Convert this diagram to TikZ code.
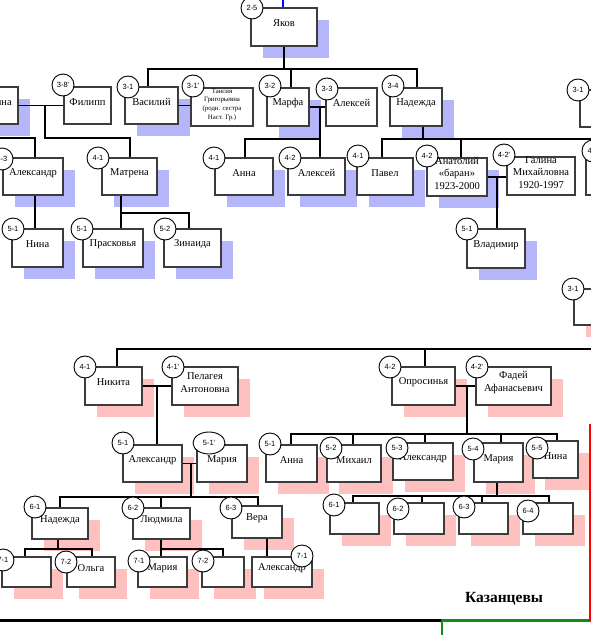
\documentclass[tikz,border=0pt]{standalone}
\usepackage{fontspec}
\setmainfont{Liberation Serif}
\newfontfamily\labfont{Liberation Sans}
\usetikzlibrary{calc,fit,shapes.geometric}
\pgfdeclarelayer{bg}\pgfdeclarelayer{lines}\pgfdeclarelayer{fg}
\pgfsetlayers{bg,lines,main,fg}
\definecolor{shb}{RGB}{181,181,250}
\definecolor{shp}{RGB}{255,192,192}
\definecolor{bord}{RGB}{60,60,60}
\definecolor{grn}{RGB}{20,140,20}
\tikzset{
 pbox/.style={draw=bord, line width=1.2pt, fill=white, inner sep=0pt, align=center, font=\fontsize{10.5}{12.5}\selectfont},
 lab/.style={circle, draw=black, line width=0.9pt, fill=white, minimum size=22pt, inner sep=0pt, font=\labfont\fontsize{7.5}{8}\selectfont},
 con/.style={line width=1.6pt, black},
 ntansiya/.style={font=\fontsize{6.8}{8.8}\selectfont},
}
\newcommand\pers[8]{%
 \begin{pgfonlayer}{bg}\path[fill=#7] ($(#2)+(12,12)$) rectangle ($(#3)+(12,12)$);\end{pgfonlayer}
 \node[pbox, fit={(#2) (#3)}, n#1/.try] (#1) {#4};
 \ifx&#5&\else\begin{pgfonlayer}{fg}\node[lab,#8] (l#1) at (#6) {#5};\end{pgfonlayer}\fi
}
\begin{document}
\begin{tikzpicture}[x=1pt,y=-1pt]
\useasboundingbox (0,0) rectangle (591,635);
% ---------- upper family (blue) ----------
\pers{yakov}{251,8}{317,46}{Яков}{2-5}{252,8}{shb}{}
\pers{leftna}{-18,87}{18,124}{Анна}{}{0,0}{shb}{}
\pers{filipp}{64,87}{111,124}{Филипп}{3-8'}{63,85}{none}{}
\pers{vasiliy}{125,87}{178,124}{Василий}{3-1}{128,87}{shb}{}
\pers{tansiya}{191,88}{253,126}{Тансия\\Григорьевна\\(родн. сестра\\Наст. Гр.)}{3-1'}{193,86}{none}{}
\pers{marfa}{267,88}{309,126}{Марфа}{3-2}{270,86}{shb}{}
\pers{aleksey3}{326,88}{377,126}{Алексей}{3-3}{327,89}{none}{}
\pers{nadezhda3}{390,88}{442,126}{Надежда}{3-4}{393,86}{shb}{}
\pers{right31}{580,90}{640,127}{}{3-1}{578,90}{shb}{}
\pers{aleks4}{3,158}{63,195}{Александр}{4-3}{2,159}{shb}{}
\pers{matrena}{102,158}{157,195}{Матрена}{4-1}{98,158}{shb}{}
\pers{anna4}{215,158}{273,195}{Анна}{4-1}{214,158}{shb}{}
\pers{aleksey4}{288,158}{345,195}{Алексей}{4-2}{290,158}{shb}{}
\pers{pavel}{357,158}{413,195}{Павел}{4-1}{358,156}{shb}{}
\pers{anatoliy}{427,158}{487,196}{Анатолий\\«баран»\\1923-2000}{4-2}{427,156}{shb}{}
\pers{galina}{507,157}{575,195}{Галина\\Михайловна\\1920-1997}{4-2'}{504,155}{none}{}
\pers{right43}{586,157}{640,195}{}{4-3}{593,151}{shb}{}
\pers{nina}{12,229}{63,267}{Нина}{5-1}{13,229}{shb}{}
\pers{praskovya}{83,229}{143,267}{Прасковья}{5-1}{82,229}{shb}{}
\pers{zinaida}{164,229}{221,267}{Зинаида}{5-2}{165,229}{shb}{}
\pers{vladimir}{467,229}{525,268}{Владимир}{5-1}{467,229}{shb}{}
\pers{right31b}{574,289}{640,325}{}{3-1}{573,289}{shp}{}
% ---------- lower family (pink) ----------
\pers{nikita}{85,367}{142,405}{Никита}{4-1}{85,367}{shp}{}
\pers{pelageya}{172,367}{238,405}{Пелагея\\Антоновна}{4-1'}{173,367}{shp}{}
\pers{opros}{392,367}{455,405}{Опросинья}{4-2}{390,367}{shp}{}
\pers{fadey}{476,367}{551,405}{Фадей\\Афанасьевич}{4-2'}{477,367}{shp}{}
\pers{aleks5}{123,445}{182,482}{Александр}{5-1}{123,443}{shp}{}
\pers{mariya5}{197,445}{247,482}{Мария}{5-1'}{209,443}{shp}{ellipse, minimum width=32pt, minimum height=22pt}
\pers{anna5}{266,445}{317,482}{Анна}{5-1}{270,444}{shp}{}
\pers{mikhail}{327,445}{381,482}{Михаил}{5-2}{331,448}{shp}{}
\pers{aleks53}{393,443}{453,480}{Александр}{5-3}{397,448}{shp}{}
\pers{mariya54}{474,443}{523,482}{Мария}{5-4}{473,449}{shp}{}
\pers{nina55}{533,441}{578,478}{Нина}{5-5}{537,448}{shp}{}
\pers{nadezhda6}{32,508}{88,539}{Надежда}{6-1}{35,507}{shp}{}
\pers{lyud}{133,508}{190,539}{Людмила}{6-2}{133,508}{shp}{}
\pers{vera}{232,506}{282,538}{Вера}{6-3}{231,508}{shp}{}
\pers{cA}{330,503}{379,534}{}{6-1}{334,505}{shp}{}
\pers{cB}{394,503}{444,534}{}{6-2}{398,509}{shp}{}
\pers{cC}{459,503}{508,534}{}{6-3}{464,507}{shp}{}
\pers{cD}{523,503}{573,534}{}{6-4}{528,511}{shp}{}
\pers{bA}{2,557}{51,587}{}{7-1}{3,560}{shp}{}
\pers{olga}{67,557}{115,587}{Ольга}{7-2}{66,562}{shp}{}
\pers{mariya7}{138,557}{187,587}{Мария}{7-1}{139,561}{shp}{}
\pers{bB}{202,557}{244,587}{}{7-2}{203,561}{shp}{}
\pers{aleks7}{252,557}{312,587}{Александр}{7-1}{302,556}{shp}{}
\node[font=\bfseries\fontsize{15.5}{18}\selectfont] (title) at (504,599) {Казанцевы};
% ---------- connectors ----------
\begin{pgfonlayer}{lines}
\coordinate (top) at (283,0);
\draw[blue, line width=2.4pt] (top) -- (top |- yakov.north);
\draw[con] (yakov.south) -- (yakov.south |- 0,69);
\draw[con] (vasiliy.north -| 148,0) -- (148,69) -- (417,69) -- (nadezhda3.north -| 417,0);
\draw[con] (marfa.north -| 291,0) -- (291,69);
\draw[con] (vasiliy.east) -- (tansiya.west |- vasiliy.east);
\draw[con] (leftna.east) -- (filipp.west);
\draw[con] (45,105.5) -- (45,138) -- (130,138) -- (matrena.north -| 130,0);
\coordinate (lfree) at (0,138);
\draw[con] (lfree) -- (35,138) -- (aleks4.north -| 35,0);
\draw[con] (aleks4.south -| 35,0) -- (nina.north -| 35,0);
\draw[con] (matrena.south -| 121,0) -- (praskovya.north -| 121,0);
\draw[con] (121,213) -- (189,213) -- (zinaida.north -| 189,0);
\draw[con] (marfa.east) -- (aleksey3.west);
\draw[con] (anna4.north -| 245,0) -- (245,139) -- (320,139);
\draw[con] (320,107) -- (aleksey4.north -| 320,0);
\draw[con] (nadezhda3.south -| 423,0) -- (423,139);
\coordinate (rfree) at (591,139);
\draw[con] (pavel.north -| 382,0) -- (382,139) -- (rfree);
\draw[con] (anatoliy.north -| 461,0) -- (461,139);
\draw[con] (anatoliy.east) -- (galina.west |- anatoliy.east);
\draw[con] (497,177) -- (vladimir.north -| 497,0);
% lower
\coordinate (bfree) at (591,349);
\draw[con] (nikita.north -| 117,0) -- (117,349) -- (bfree);
\draw[con] (opros.north -| 425,0) -- (425,349);
\draw[con] (nikita.east) -- (pelageya.west);
\draw[con] (157,386) -- (aleks5.north -| 157,0);
\draw[con] (opros.east) -- (fadey.west);
\draw[con] (467,386) -- (467,434);
\draw[con] (anna5.north -| 291,0) -- (291,434) -- (557,434) -- (nina55.north -| 557,0);
\draw[con] (mikhail.north -| 353,0) -- (353,434);
\draw[con] (aleks53.north -| 425,0) -- (425,434);
\draw[con] (mariya54.north -| 501,0) -- (501,434);
\draw[con] (aleks5.east) -- (mariya5.west);
\draw[con] (191,463.5) -- (191,497);
\draw[con] (nadezhda6.north -| 60,0) -- (60,497) -- (258,497) -- (vera.north -| 258,0);
\draw[con] (lyud.north -| 161,0) -- (161,497);
\draw[con] (nadezhda6.south -| 58,0) -- (58,549);
\draw[con] (bA.north -| 25,0) -- (25,549) -- (92,549) -- (olga.north -| 92,0);
\draw[con] (lyud.south -| 161,0) -- (mariya7.north -| 161,0);
\draw[con] (161,549) -- (223,549) -- (bB.north -| 223,0);
\draw[con] (vera.south -| 267,0) -- (aleks7.north -| 267,0);
\draw[con] (mariya54.south -| 497,0) -- (497,496);
\draw[con] (cA.north -| 353,0) -- (353,496) -- (549,496) -- (cD.north -| 549,0);
\draw[con] (cB.north -| 422,0) -- (422,496);
\draw[con] (cC.north -| 482,0) -- (482,496);
\end{pgfonlayer}
% frame lines
\begin{pgfonlayer}{fg}
\coordinate (kleft) at (0,620.5);
\coordinate (kmid) at (442,620.5);
\coordinate (kright) at (591,620.5);
\coordinate (gbot) at (442,635);
\coordinate (rtop) at (590,424);
\draw[draw=black, line width=2.6pt] (kleft) -- (kmid);
\draw[grn, line width=2.4pt] (gbot) -- (kmid) -- (kright);
\draw[red, line width=2pt] (rtop) -- (rtop |- kright);
\end{pgfonlayer}
\end{tikzpicture}
\end{document}
